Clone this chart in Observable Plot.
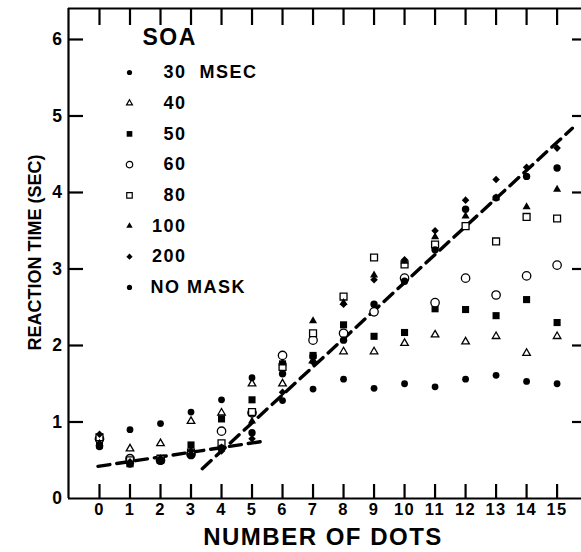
<!DOCTYPE html>
<html><head><meta charset="utf-8">
<script src="https://cdn.jsdelivr.net/npm/d3@7"></script>
<script src="https://cdn.jsdelivr.net/npm/@observablehq/plot@0.6"></script>
<style>
body{margin:0;background:#fff}
#chart{width:581px;height:552px}
</style>
</head><body><div id="chart"></div>
<script>
// ---- data ----
const dots = [0,1,2,3,4,5,6,7,8,9,10,11,12,13,14,15];
const soa30  = [0.76,0.90,0.98,1.13,1.29,1.58,1.28,1.43,1.56,1.44,1.50,1.46,1.56,1.61,1.53,1.50];
const soa40  = [0.80,0.65,0.72,1.01,1.12,1.50,1.50,1.80,1.92,1.92,2.03,2.14,2.05,2.12,1.90,2.12];
const soa50  = [0.70,0.47,0.52,0.70,1.04,1.29,1.76,1.87,2.27,2.12,2.17,2.48,2.47,2.39,2.60,2.30];
const soa60  = [0.78,0.52,0.50,0.58,0.88,1.12,1.87,2.07,2.16,2.44,2.88,2.56,2.88,2.66,2.91,3.05];
const soa80  = [0.80,0.50,0.52,0.60,0.72,1.13,1.72,2.16,2.64,3.15,3.06,3.32,3.56,3.36,3.68,3.66];
const soa100 = [0.72,0.44,0.48,0.57,0.66,1.01,1.77,2.32,2.56,2.92,3.10,3.42,3.69,3.93,3.81,4.04];
const soa200 = [0.84,0.48,0.53,0.62,0.62,0.78,1.39,1.78,2.54,2.86,3.12,3.50,3.90,4.17,4.33,4.58];
const noMask = [0.68,0.45,0.49,0.56,0.66,0.86,1.63,1.86,2.07,2.54,2.84,3.25,3.78,3.93,4.21,4.32];
const seriesNames = ["30","40","50","60","80","100","200","NO MASK"];
const seriesValues = [soa30,soa40,soa50,soa60,soa80,soa100,soa200,noMask];
const legendTitle = "SOA";
const legendUnit = "MSEC";
const fitShallowX = [-0.05, 5.4], fitShallowY = [0.42, 0.75];
const fitSteepX = [3.37, 15.5], fitSteepY = [0.39, 4.84];
const xTicks = dots;
const yTicks = [0,1,2,3,4,5,6];
const xDomain = [-1.016, 15.8];
const yDomain = [0, 6.405];
const xTitle = "NUMBER OF DOTS";
const yTitle = "REACTION TIME (SEC)";

// ---- styles ----
const FONT = "Liberation Sans, Arial, sans-serif";
const styles = {
  "30":      {symbol:"circle",   fill:"black", stroke:"none",  r:3.4, lr:2.6},
  "40":      {symbol:"triangle", fill:"white", stroke:"black", r:2.8, lr:2.2},
  "50":      {symbol:"square",   fill:"black", stroke:"none",  r:4.0, lr:3.2},
  "60":      {symbol:"circle",   fill:"white", stroke:"black", r:4.2, lr:3.2},
  "80":      {symbol:"square",   fill:"white", stroke:"black", r:3.9, lr:3.1},
  "100":     {symbol:"triangle", fill:"black", stroke:"none",  r:3.0, lr:2.4},
  "200":     {symbol:"diamond2", fill:"black", stroke:"none",  r:3.4, lr:2.8},
  "NO MASK": {symbol:"circle",   fill:"black", stroke:"none",  r:3.7, lr:2.6}
};

const W = 581, H = 552, mL = 68, mR = 0, mT = 8, mB = 54;
const plotW = W - mL - mR, plotH = H - mT - mB;

const rows = [];
seriesNames.forEach((s, k) => seriesValues[k].forEach((v, i) => rows.push({series: s, n: dots[i], rt: v})));
const shallow = fitShallowX.map((x, i) => ({n: x, rt: fitShallowY[i]}));
const steep = fitSteepX.map((x, i) => ({n: x, rt: fitSteepY[i]}));

const marks = [];
// frame lines
marks.push(Plot.ruleY([yDomain[0]], {strokeWidth: 2.2}));
marks.push(Plot.ruleY([yDomain[1]], {strokeWidth: 2.2}));
marks.push(Plot.ruleX([xDomain[0]], {strokeWidth: 2.2}));
// inward ticks
marks.push(Plot.ruleX(xTicks, {insetTop: plotH - 14, strokeWidth: 2.2}));
marks.push(Plot.ruleX(xTicks, {insetBottom: plotH - 17, strokeWidth: 2.2}));
marks.push(Plot.ruleY(yTicks.slice(1), {insetRight: plotW - 15, strokeWidth: 2.2}));
marks.push(Plot.ruleY(yTicks.slice(1), {insetLeft: plotW - 9, strokeWidth: 2.2}));
// tick labels
marks.push(Plot.axisX(xTicks, {tickSize: 0, tickPadding: 5, tickFormat: "d", fontSize: 16.5, fontWeight: "bold", fontFamily: FONT, label: null}));
marks.push(Plot.axisY(yTicks, {tickSize: 0, tickPadding: 5, tickFormat: "d", fontSize: 17.5, fontWeight: "bold", fontFamily: FONT, label: null}));
// titles
marks.push(Plot.text([xTitle], {frameAnchor: "bottom", dy: 39, dx: -2, lineAnchor: "middle", textAnchor: "middle", fontSize: 24, fontWeight: "bold", fontFamily: FONT}));
marks.push(Plot.text([yTitle], {frameAnchor: "left", dx: -33, dy: -1, rotate: -90, lineAnchor: "middle", textAnchor: "middle", fontSize: 18, fontWeight: "bold", fontFamily: FONT}));
// fit lines
marks.push(Plot.line(shallow, {x: "n", y: "rt", strokeWidth: 3.4, strokeDasharray: "12,7"}));
marks.push(Plot.line(steep, {x: "n", y: "rt", strokeWidth: 3.4, strokeDasharray: "12,7"}));
// data points
seriesNames.forEach(s => {
  const st = styles[s];
  marks.push(Plot.dot(rows.filter(d => d.series === s), {x: "n", y: "rt", symbol: st.symbol, r: st.r, fill: st.fill, stroke: st.stroke, strokeWidth: 1.3}));
});
// legend
marks.push(Plot.text([legendTitle], {frameAnchor: "top-left", dx: 74, dy: 29, textAnchor: "start", lineAnchor: "middle", fontSize: 23, fontWeight: "bold", fontFamily: FONT}));
const rowY0 = 64, rowStep = 30.7;
seriesNames.forEach((s, k) => {
  const st = styles[s];
  const dy = rowY0 + k * rowStep;
  marks.push(Plot.dot([s], {frameAnchor: "top-left", dx: 61, dy, symbol: st.symbol, r: st.lr, fill: st.fill, stroke: st.stroke, strokeWidth: 1.2}));
  if (s === "NO MASK") {
    marks.push(Plot.text([s], {frameAnchor: "top-left", dx: 82, dy, textAnchor: "start", lineAnchor: "middle", fontSize: 18, fontWeight: "bold", fontFamily: FONT}));
  } else {
    marks.push(Plot.text([s], {frameAnchor: "top-left", dx: 118, dy, textAnchor: "end", lineAnchor: "middle", fontSize: 18, fontWeight: "bold", fontFamily: FONT}));
    if (k === 0) marks.push(Plot.text([legendUnit], {frameAnchor: "top-left", dx: 131, dy, textAnchor: "start", lineAnchor: "middle", fontSize: 18, fontWeight: "bold", fontFamily: FONT}));
  }
});

const svg = Plot.plot({
  width: W, height: H,
  marginLeft: mL, marginRight: mR, marginTop: mT, marginBottom: mB,
  x: {domain: xDomain, axis: null},
  y: {domain: yDomain, axis: null},
  style: {background: "white", color: "black", fontFamily: FONT},
  marks
});
d3.select(svg).selectAll("text").attr("letter-spacing", function() {
  return this.textContent === yTitle ? "0px" : "1.5px";
});
document.getElementById("chart").appendChild(svg);
</script>
</body></html>
